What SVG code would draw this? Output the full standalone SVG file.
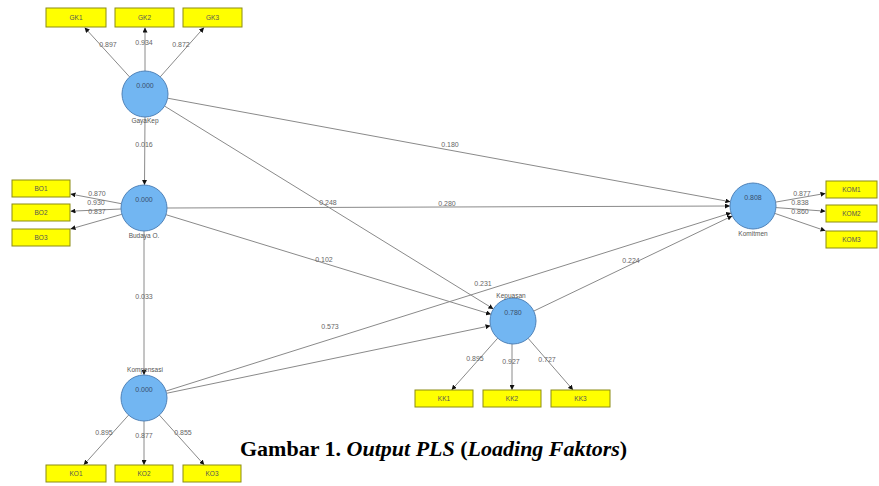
<svg xmlns="http://www.w3.org/2000/svg" width="879" height="486" viewBox="0 0 879 486">
<style>
.bx{fill:#ffff00;stroke:#8c8c14;stroke-width:1}
.bt{font-family:"Liberation Sans",Arial,sans-serif;font-size:6.5px;fill:#555;text-anchor:middle}
.cc{fill:#72b6f2;stroke:#4f82b8;stroke-width:1}
.cv{font-family:"Liberation Sans",Arial,sans-serif;font-size:7px;fill:#3a4f6a;text-anchor:middle}
.cl{font-family:"Liberation Sans",Arial,sans-serif;font-size:6.5px;fill:#555;text-anchor:middle}
.ln{stroke:#8a8a8a;stroke-width:1;fill:none;marker-end:url(#ah)}
.lb{font-family:"Liberation Sans",Arial,sans-serif;font-size:7px;fill:#666;text-anchor:middle}
.cap{font-family:"Liberation Serif","Times New Roman",serif;font-size:22px;font-weight:bold;fill:#000}
</style>
<defs>
<marker id="ah" viewBox="0 0 10 10" refX="10" refY="5" markerWidth="5" markerHeight="5" markerUnits="userSpaceOnUse" orient="auto">
<path d="M0,0 L10,5 L0,10 z" fill="#111"/>
</marker>
</defs>
<rect width="879" height="486" fill="#ffffff"/>
<g id="connectors">
<line class="ln" x1="167.6" y1="98.2" x2="730.4" y2="201.8"/>
<line class="ln" x1="164.6" y1="106.1" x2="493.4" y2="308.9"/>
<line class="ln" x1="145" y1="117" x2="144.5" y2="185"/>
<line class="ln" x1="167" y1="208" x2="730" y2="206"/>
<line class="ln" x1="166" y1="214.7" x2="491" y2="314.3"/>
<line class="ln" x1="144" y1="231" x2="144" y2="375"/>
<line class="ln" x1="165.9" y1="391.1" x2="731.1" y2="212.9"/>
<line class="ln" x1="166.5" y1="393.3" x2="490.5" y2="325.7"/>
<line class="ln" x1="533.7" y1="311.1" x2="732.3" y2="215.9"/>
<line class="ln" x1="129.6" y1="76.9" x2="84.6" y2="27.5"/>
<line class="ln" x1="145" y1="71" x2="145" y2="27.5"/>
<line class="ln" x1="160.2" y1="76.9" x2="204" y2="27.5"/>
<line class="ln" x1="121.4" y1="203.7" x2="70.5" y2="194"/>
<line class="ln" x1="121" y1="209" x2="70.5" y2="211.2"/>
<line class="ln" x1="121.9" y1="214.3" x2="70.5" y2="229"/>
<line class="ln" x1="128.6" y1="415.1" x2="83.7" y2="465"/>
<line class="ln" x1="144" y1="421" x2="144" y2="465"/>
<line class="ln" x1="159.4" y1="415.1" x2="204.3" y2="465"/>
<line class="ln" x1="497.7" y1="338.2" x2="451.6" y2="390"/>
<line class="ln" x1="512" y1="344" x2="512" y2="390"/>
<line class="ln" x1="528.1" y1="338.3" x2="573.1" y2="390"/>
<line class="ln" x1="775.7" y1="202.1" x2="825.5" y2="193.4"/>
<line class="ln" x1="776" y1="207.6" x2="825.5" y2="211.2"/>
<line class="ln" x1="774.8" y1="213.4" x2="825.5" y2="230.8"/>
<text class="lb" x="450" y="147">0.180</text>
<text class="lb" x="328" y="205">0.248</text>
<text class="lb" x="447" y="206">0.280</text>
<text class="lb" x="324" y="262">0.102</text>
<text class="lb" x="483" y="286">0.231</text>
<text class="lb" x="330" y="329">0.573</text>
<text class="lb" x="631" y="263">0.224</text>
<text class="lb" x="144" y="147">0.016</text>
<text class="lb" x="144" y="299">0.033</text>
<text class="lb" x="108" y="47">0.897</text>
<text class="lb" x="144" y="45">0.934</text>
<text class="lb" x="181" y="47">0.872</text>
<text class="lb" x="97" y="196">0.870</text>
<text class="lb" x="96" y="205">0.930</text>
<text class="lb" x="97" y="214">0.837</text>
<text class="lb" x="104" y="435">0.895</text>
<text class="lb" x="144" y="438">0.877</text>
<text class="lb" x="183" y="435">0.855</text>
<text class="lb" x="475" y="361">0.895</text>
<text class="lb" x="511" y="364">0.927</text>
<text class="lb" x="547" y="362">0.727</text>
<text class="lb" x="802" y="196">0.877</text>
<text class="lb" x="800" y="205">0.838</text>
<text class="lb" x="800" y="214">0.860</text>
</g>
<g id="GayaKep">
<circle class="cc" cx="145" cy="94" r="23"/>
<text class="cv" x="145" y="88">0.000</text>
<text class="cl" x="145" y="123">GayaKep</text>
</g>
<g id="BudayaO">
<circle class="cc" cx="144" cy="208" r="23"/>
<text class="cv" x="144" y="202">0.000</text>
<text class="cl" x="144" y="238">Budaya O.</text>
</g>
<g id="Kompensasi">
<circle class="cc" cx="144" cy="398" r="23"/>
<text class="cv" x="144" y="392">0.000</text>
<text class="cl" x="145" y="372">Kompensasi</text>
</g>
<g id="Kepuasan">
<circle class="cc" cx="513" cy="321" r="23"/>
<text class="cv" x="513" y="315">0.780</text>
<text class="cl" x="511" y="298">Kepuasan</text>
</g>
<g id="Komitmen">
<circle class="cc" cx="753" cy="206" r="23"/>
<text class="cv" x="753" y="200">0.808</text>
<text class="cl" x="753" y="236">Komitmen</text>
</g>
<g id="GK1"><rect class="bx" x="46" y="8" width="60" height="19"/><text class="bt" x="76" y="20">GK1</text></g>
<g id="GK2"><rect class="bx" x="115" y="8" width="59" height="19"/><text class="bt" x="144.5" y="20">GK2</text></g>
<g id="GK3"><rect class="bx" x="183" y="8" width="59" height="19"/><text class="bt" x="212.5" y="20">GK3</text></g>
<g id="BO1"><rect class="bx" x="12" y="180" width="58" height="17"/><text class="bt" x="41" y="191">BO1</text></g>
<g id="BO2"><rect class="bx" x="12" y="204" width="58" height="17"/><text class="bt" x="41" y="215">BO2</text></g>
<g id="BO3"><rect class="bx" x="12" y="229" width="58" height="17"/><text class="bt" x="41" y="240">BO3</text></g>
<g id="KO1"><rect class="bx" x="46" y="465" width="60" height="17"/><text class="bt" x="76" y="476">KO1</text></g>
<g id="KO2"><rect class="bx" x="115" y="465" width="58" height="17"/><text class="bt" x="144" y="476">KO2</text></g>
<g id="KO3"><rect class="bx" x="183" y="465" width="58" height="17"/><text class="bt" x="212" y="476">KO3</text></g>
<g id="KK1"><rect class="bx" x="415" y="390" width="58" height="17"/><text class="bt" x="444" y="401">KK1</text></g>
<g id="KK2"><rect class="bx" x="483" y="390" width="58" height="17"/><text class="bt" x="512" y="401">KK2</text></g>
<g id="KK3"><rect class="bx" x="551" y="390" width="59" height="17"/><text class="bt" x="580.5" y="401">KK3</text></g>
<g id="KOM1"><rect class="bx" x="826" y="181" width="51" height="17"/><text class="bt" x="851.5" y="192">KOM1</text></g>
<g id="KOM2"><rect class="bx" x="826" y="205" width="51" height="17"/><text class="bt" x="851.5" y="216">KOM2</text></g>
<g id="KOM3"><rect class="bx" x="826" y="231" width="51" height="17"/><text class="bt" x="851.5" y="242">KOM3</text></g>
<text class="cap" x="240" y="456">Gambar 1. <tspan font-style="italic">Output PLS</tspan> (<tspan font-style="italic">Loading Faktors</tspan>)</text>
</svg>
